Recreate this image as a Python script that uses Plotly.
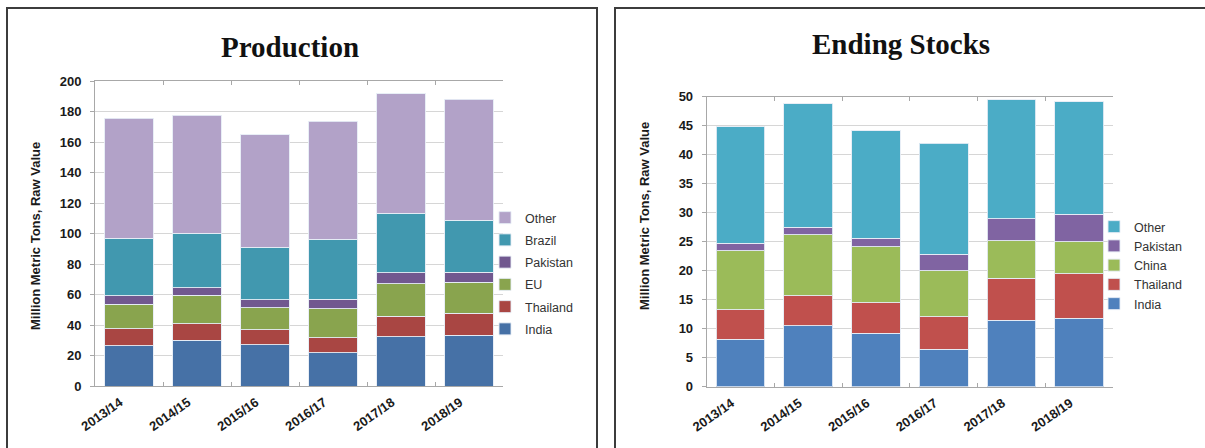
import plotly.graph_objects as go

W, H = 1205, 448

years = ["2013/14", "2014/15", "2015/16", "2016/17", "2017/18", "2018/19"]

# Production (million metric tons, raw value)
prod_india = [26.3, 30.1, 27.2, 21.7, 32.2, 33.4]
prod_thailand = [11.4, 10.7, 9.6, 9.9, 13.5, 14.2]
prod_eu = [16.0, 18.7, 14.5, 18.9, 21.4, 20.4]
prod_pakistan = [5.5, 5.0, 5.1, 6.3, 7.2, 6.6]
prod_brazil = [37.7, 35.7, 34.6, 39.5, 38.9, 34.2]
prod_other = [78.8, 77.2, 73.7, 77.4, 78.5, 79.4]

# Ending stocks (million metric tons, raw value)
stk_india = [8.2, 10.5, 9.25, 6.5, 11.5, 11.8]
stk_thailand = [5.1, 5.2, 5.25, 5.6, 7.2, 7.7]
stk_china = [10.1, 10.5, 9.6, 7.9, 6.5, 5.5]
stk_pakistan = [1.3, 1.3, 1.5, 2.8, 3.8, 4.7]
stk_other = [20.1, 21.3, 18.5, 19.2, 20.5, 19.4]

prod_series = [
    ("India", prod_india, "#4671a6"),
    ("Thailand", prod_thailand, "#a94643"),
    ("EU", prod_eu, "#89a44e"),
    ("Pakistan", prod_pakistan, "#71588f"),
    ("Brazil", prod_brazil, "#4198af"),
    ("Other", prod_other, "#b2a2c8"),
]
stk_series = [
    ("India", stk_india, "#4f81bd"),
    ("Thailand", stk_thailand, "#c0504d"),
    ("China", stk_china, "#9bbb59"),
    ("Pakistan", stk_pakistan, "#8064a2"),
    ("Other", stk_other, "#4bacc6"),
]


def px(x):
    return x / W


def py(y):
    return 1 - y / H


fig = go.Figure()

edge = dict(color="rgba(230,236,245,0.9)", width=1)
for i, (name, vals, col) in enumerate(prod_series):
    fig.add_trace(go.Bar(
        x=years, y=vals, name=name, marker=dict(color=col, line=edge),
        xaxis="x", yaxis="y", legend="legend", legendgroup="p" + name,
        legendrank=100 - i,
    ))
for i, (name, vals, col) in enumerate(stk_series):
    fig.add_trace(go.Bar(
        x=years, y=vals, name=name, marker=dict(color=col, line=edge),
        xaxis="x2", yaxis="y2", legend="legend2", legendgroup="s" + name,
        legendrank=100 - i,
    ))

tickfont = dict(family="Liberation Sans", size=13, color="#1a1a1a", weight="bold")
grid = "#d6d6d6"
axline = "#a8a8a8"

xcommon = dict(
    showline=True, linecolor=axline, linewidth=1, mirror="ticks",
    ticks="inside", tickson="boundaries", ticklen=4, tickcolor=axline,
    tickangle=-35, tickfont=tickfont, showgrid=False, fixedrange=True,
    ticklabelstandoff=3, ticklabelshift=-9, automargin=False,
)
ycommon = dict(
    showline=True, linecolor=axline, linewidth=1,
    ticks="outside", ticklen=4, tickcolor=axline,
    showgrid=True, gridcolor=grid, gridwidth=1, zeroline=False,
    tickfont=tickfont, fixedrange=True, ticklabelstandoff=6, automargin=False,
)

fig.update_layout(
    width=W, height=H,
    margin=dict(l=0, r=0, t=0, b=0, pad=0, autoexpand=False),
    paper_bgcolor="white", plot_bgcolor="white",
    barmode="stack", bargap=0.28,
    showlegend=True,
    xaxis=dict(domain=[px(95), px(503)], anchor="y", **xcommon),
    yaxis=dict(domain=[py(386), py(81)], anchor="x", range=[0, 200], dtick=20, **ycommon),
    xaxis2=dict(domain=[px(706.7), px(1113)], anchor="y2", **xcommon),
    yaxis2=dict(domain=[py(386.7), py(96.7)], anchor="x2", range=[0, 50], dtick=5, **ycommon),
    legend=dict(
        x=px(485), y=py(203), xanchor="left", yanchor="top",
        traceorder="grouped", tracegroupgap=3,
        font=dict(family="Liberation Sans", size=12.5, color="#333333"),
        bgcolor="rgba(0,0,0,0)",
    ),
    legend2=dict(
        x=px(1094), y=py(212), xanchor="left", yanchor="top",
        traceorder="grouped", tracegroupgap=0,
        font=dict(family="Liberation Sans", size=12.5, color="#333333"),
        bgcolor="rgba(0,0,0,0)",
    ),
)

# Panel frames
fig.add_shape(type="rect", xref="paper", yref="paper",
              x0=px(7), x1=px(597), y0=py(470), y1=py(8),
              line=dict(color="#3c3c3c", width=2), fillcolor="rgba(0,0,0,0)", layer="below")
fig.add_shape(type="rect", xref="paper", yref="paper",
              x0=px(615), x1=px(1230), y0=py(470), y1=py(8),
              line=dict(color="#3c3c3c", width=2), fillcolor="rgba(0,0,0,0)", layer="below")

# Titles
titlefont = dict(family="Liberation Serif", size=29, color="#111111", weight="bold")
fig.add_annotation(text="Production", xref="paper", yref="paper", x=px(290), y=py(47),
                   showarrow=False, font=titlefont, xanchor="center", yanchor="middle")
fig.add_annotation(text="Ending Stocks", xref="paper", yref="paper", x=px(901), y=py(44),
                   showarrow=False, font=titlefont, xanchor="center", yanchor="middle")

# Y-axis titles
ytfont = dict(family="Liberation Sans", size=13, color="#1a1a1a", weight="bold")
fig.add_annotation(text="Million Metric Tons, Raw Value", xref="paper", yref="paper",
                   x=px(35), y=py(236), textangle=-90, showarrow=False, font=ytfont,
                   xanchor="center", yanchor="middle")
fig.add_annotation(text="Million Metric Tons, Raw Value", xref="paper", yref="paper",
                   x=px(644), y=py(216), textangle=-90, showarrow=False, font=ytfont,
                   xanchor="center", yanchor="middle")

fig.write_html("out.html")
